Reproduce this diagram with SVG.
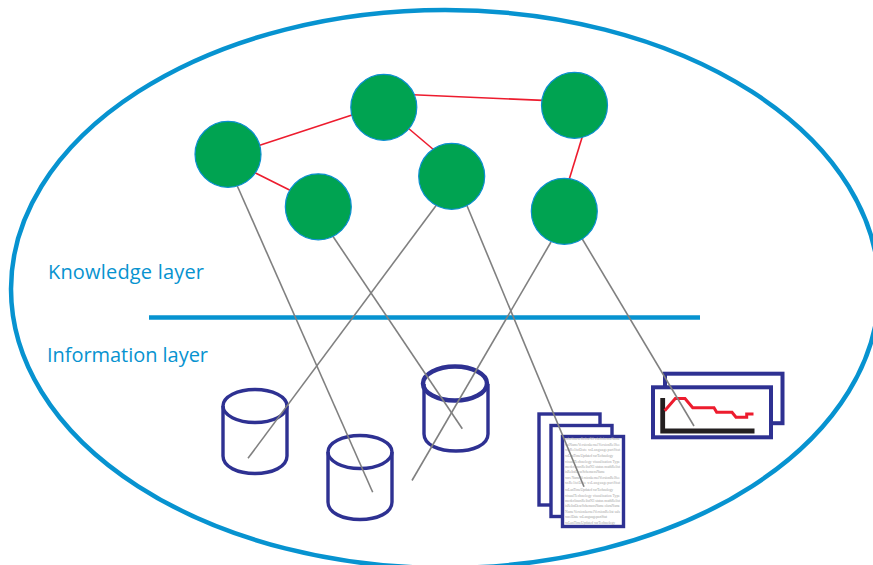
<svg xmlns="http://www.w3.org/2000/svg" width="873" height="565" viewBox="0 0 873 565">
<style>
.layer{fill:none;stroke:#0793d0;stroke-width:4.5}
.node{fill:#00a351;stroke:#0b8fd0;stroke-width:1.2}
.red{stroke:#ed1c2e;stroke-width:1.6;fill:none}
.grey{stroke:#808080;stroke-width:1.6;fill:none}
.navy{fill:none;stroke:#2e3192;stroke-width:3.4}
.sheet{fill:#fff;stroke:#2e3192;stroke-width:3.4}
.lbl{font-family:"Open Sans","Noto Sans",sans-serif;font-size:20px;fill:#0793d0}
.tiny{font-family:"Liberation Serif",serif;font-size:3.7px;fill:#a4a4a4}
</style>
<rect width="873" height="565" fill="#fff"/>
<g id="boundary">
<ellipse class="layer" cx="445" cy="289" rx="434" ry="279"/>
<line class="layer" x1="149" y1="317.500" x2="700" y2="317.500"/>
</g>
<g id="label-knowledge"><text class="lbl" x="48" y="279" textLength="156">Knowledge layer</text></g>
<g id="label-information"><text class="lbl" x="47" y="362" textLength="161">Information layer</text></g>
<g id="db1">
<path class="navy" d="M223 406V456C223 467 238 473.500 255 473.500C272 473.500 287 467 287 456V406"/>
<ellipse class="navy" cx="255" cy="406" rx="32" ry="16.500"/>
</g>
<g id="db2">
<path class="navy" d="M328 452V502C328 513 343 519.500 360 519.500C377 519.500 392 513 392 502V452"/>
<ellipse class="navy" cx="360" cy="452" rx="32" ry="16.500"/>
</g>
<g id="db3">
<path class="navy" d="M424 384V434C424 445 439 451 456 451C473 451 488 445 488 434V384"/>
<ellipse class="navy" cx="455" cy="383.500" rx="32" ry="17" style="stroke-width:4.500"/>
</g>
<g id="documents">
<rect class="sheet" x="539" y="414" width="61" height="91"/>
<rect class="sheet" x="551" y="425.500" width="61" height="91"/>
<rect class="sheet" x="562.500" y="436.500" width="61" height="90"/>
<g class="tiny">
<text x="565" y="440" textLength="55">odsrlinuxeRelistN3 olaSchemaName</text>
<text x="565" y="446" textLength="55">xsiNameVersionkernelVersionRelSee</text>
<text x="565" y="451" textLength="55">xsiRelistDate xsLanguagepartStat</text>
<text x="565" y="456.500" textLength="48">xsLanTimeUpdated  xsrTechnology</text>
<text x="565" y="462.500" textLength="55">visualTechnology  visualisation Type</text>
<text x="565" y="467.500" textLength="55">moderlinuxRelistN3 status mathRelist</text>
<text x="565" y="473" textLength="40">isRelistDescSchemaxsName</text>
<text x="565" y="479" textLength="55">xsrs NameVersionkernelVersionRelSee</text>
<text x="565" y="484" textLength="55">xsRelistDate xsLanguagepartStat</text>
<text x="565" y="490.500" textLength="48">xsLanTimeUpdated  xsrTechnology</text>
<text x="565" y="496.500" textLength="55">visualTechnology  visualisation Type</text>
<text x="565" y="501.500" textLength="55">moderlinuxRelistN3 status mathRelist</text>
<text x="565" y="507" textLength="55">isRelistDescSchemaxsName olaxsName</text>
<text x="565" y="512.500" textLength="55">NameVersionkernelVersionRelist sals</text>
<text x="565" y="518" textLength="42">xsrelDate xsLanguagepartStat</text>
<text x="565" y="524" textLength="50">xsLanTimeUpdated  xsrTechnology</text>
</g>
</g>
<g id="chart">
<rect class="navy" x="665" y="373.700" width="117.500" height="49.500" style="stroke-width:4"/>
<rect class="sheet" x="653" y="387.300" width="118" height="50" style="stroke-width:4"/>
<path d="M662.700 398V431H754.500" fill="none" stroke="#231f20" stroke-width="4.800"/>
<path d="M664.700 410.700L675.300 398.500H685L692.700 407.700H714L716.700 412.300H732L736 417.300H746.700V414H753.500" fill="none" stroke="#ed1c2e" stroke-width="3"/>
</g>
<g id="connectors">
<line class="red" x1="255" y1="172.700" x2="290" y2="190.300"/>
<line class="red" x1="259" y1="145.500" x2="352" y2="115"/>
<line class="red" x1="408" y1="128" x2="434" y2="150"/>
<line class="red" x1="413" y1="94.700" x2="543" y2="100.400"/>
<line class="red" x1="582.500" y1="136" x2="569" y2="180"/>
<line class="grey" x1="237.300" y1="186" x2="372.700" y2="492.300"/>
<line class="grey" x1="332.700" y1="236" x2="462.300" y2="428.700"/>
<line class="grey" x1="436.500" y1="205" x2="248" y2="458.300"/>
<line class="grey" x1="466.700" y1="205" x2="584" y2="486.700"/>
<line class="grey" x1="551" y1="242" x2="412" y2="480.500"/>
<line class="grey" x1="582" y1="238.500" x2="694" y2="426"/>
</g>
<g id="node1"><circle class="node" cx="228" cy="154.300" r="33"/></g>
<g id="node2"><circle class="node" cx="318.300" cy="206.800" r="33"/></g>
<g id="node3"><circle class="node" cx="383.800" cy="107.300" r="33"/></g>
<g id="node4"><circle class="node" cx="451.700" cy="176.300" r="33"/></g>
<g id="node5"><circle class="node" cx="574.500" cy="105.300" r="33"/></g>
<g id="node6"><circle class="node" cx="564.300" cy="211.300" r="33"/></g>
</svg>
